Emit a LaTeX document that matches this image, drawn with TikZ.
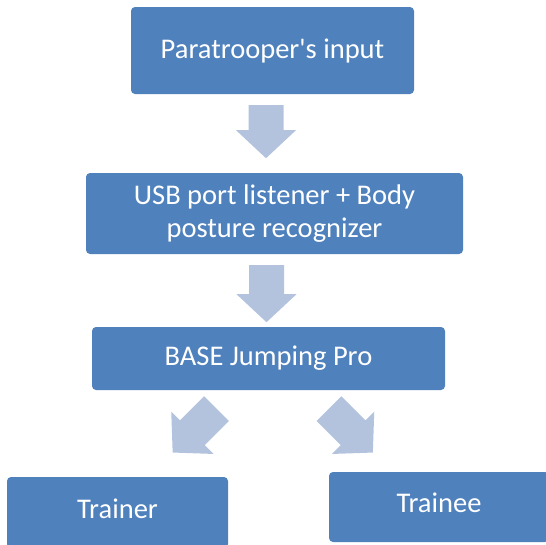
\documentclass[tikz,border=0pt]{standalone}
\usepackage{fontspec}
\setmainfont{Carlito}[Ligatures=TeXOff]
\usetikzlibrary{calc}
\definecolor{boxblue}{HTML}{4F81BD}
\definecolor{arrowblue}{HTML}{B3C3DE}
\tikzset{
  flowbox/.style={fill=boxblue, rounded corners=4pt, text=white,
    font=\fontsize{28.5}{33}\selectfont, align=center, inner sep=0pt},
  % block arrow along +y: shaft 35 wide, head 60 wide and 28 long
  pics/blockarrow/.style={code={
    \fill[arrowblue] (-17.5,0) -- (17.5,0) -- (17.5,#1-28) -- (30,#1-28)
      -- (0,#1) -- (-30,#1-28) -- (-17.5,#1-28) -- cycle;}}
}
\begin{document}
\begin{tikzpicture}[x=1pt,y=-1pt]
\useasboundingbox (0,0) rectangle (546,544);
\clip (0,0) rectangle (546,544);

\node[flowbox, minimum width=283pt, minimum height=87pt] (input) at (272.5,50.5) {Paratrooper's input};
\node[flowbox, minimum width=377pt, minimum height=81pt] (listener) at (274.5,213.5) {USB port listener + Body\\posture recognizer};
\node[flowbox, minimum width=353pt, minimum height=63pt] (pro) at (268.5,358.5) {BASE Jumping Pro};
\node[flowbox, minimum width=221pt, minimum height=71pt, text depth=7pt] (trainer) at (117.5,512.5) {Trainer};
\node[flowbox, minimum width=220pt, minimum height=70pt, text depth=8pt] (trainee) at (439,507) {Trainee};

% arrows between the stages
\coordinate (a1) at ($(input.south)+(-6.5,11)$);
\coordinate (a2) at ($(listener.south)+(-8,11)$);
\coordinate (a3) at ($(pro.south)+(-52,18.5)$);
\coordinate (a4) at ($(pro.south)+(60.5,18.5)$);
\pic at (a1) {blockarrow=53};
\pic at (a2) {blockarrow=57};
\pic[rotate=-45] at (a3) {blockarrow=62};
\pic[rotate=45] at (a4) {blockarrow=62};
\end{tikzpicture}
\end{document}
